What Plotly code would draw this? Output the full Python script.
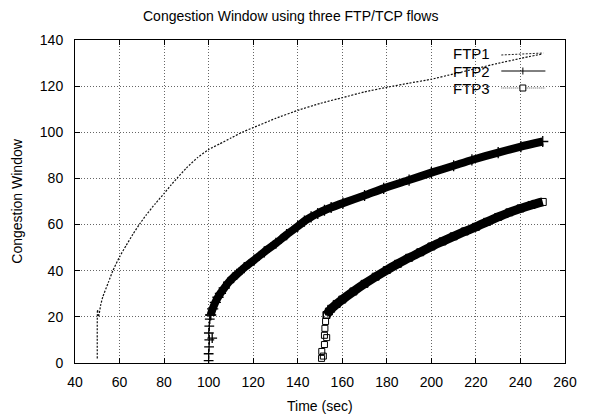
import plotly.graph_objects as go

# ---- data ----
ftp1_t = [50, 50.1, 50.6, 51.5, 52.5, 55, 57, 60, 63, 66, 69, 72, 76, 80, 83, 86, 90, 95,
          100, 105, 110, 115, 120, 130, 140, 150, 160, 170, 180, 190, 200, 210, 220, 230, 240, 250]
ftp1_w = [2, 23, 20, 25, 28.7, 35, 40, 46, 51, 55.8, 60.2, 64.2, 69, 73.5, 77, 80.3, 84.5, 89,
          92.5, 95, 97.5, 100, 102, 106, 109.5, 112.5, 115, 117.5, 119.5, 121.3, 123, 125.3, 127.6, 129.9, 132, 134]

ftp2_t = [100, 100, 100.2, 100.3, 100.1, 101.6, 100.3, 100.5, 100.9, 101.8, 103, 104.2, 105.3, 107, 109, 111,
          112.6, 116, 120.4, 125, 130.2, 135, 140, 143, 146, 149, 152, 155, 160.3, 170, 178.6, 190, 200,
          210, 218.2, 230, 240.2, 250]
ftp2_w = [1, 4, 7, 10, 13, 10.8, 16, 19, 20.8, 23.5, 26.3, 28.5, 30.2, 32.5, 35, 37,
          38.4, 41.3, 44.6, 48.2, 51.9, 55.6, 59.2, 61.5, 63.3, 64.8, 66.2, 67.4, 69.3, 72.6, 75.7, 79.3, 82.5,
          85.5, 88, 91.2, 93.8, 96]

ftp3_t = [150.7, 150.8, 151.5, 152, 152, 152.2, 153.0, 152.5, 152.9, 154, 155, 157.5, 160, 165, 170, 175,
          180, 185, 190, 195, 200, 205, 210, 215, 220, 225, 230, 235, 240, 245, 250]
ftp3_w = [2, 5, 3, 8, 12, 15, 11, 18, 20.8, 22.3, 23.5, 25.6, 27.5, 31, 34.3, 37.4,
          40.3, 43, 45.6, 48, 50.5, 52.7, 54.9, 57, 59, 61.2, 63.3, 65.3, 67, 68.5, 69.8]

# index where the slow-start spike ends and the continuous curve begins
ftp2_curve_start = 8
ftp3_curve_start = 8

series_names = ["FTP1", "FTP2", "FTP3"]
x_ticks = list(range(40, 261, 20))
y_ticks = list(range(0, 141, 20))

FONT = "Liberation Sans, Arial, Helvetica, sans-serif"

fig = go.Figure()
fig.add_trace(go.Scatter(x=ftp1_t, y=ftp1_w, mode="lines", name=series_names[0],
                         line=dict(color="#111", width=1.2, dash="2px,1.5px", shape="spline", smoothing=0.5)))
# FTP2: scattered "+" on the spike, thick band of points along the curve
fig.add_trace(go.Scatter(x=ftp2_t[:ftp2_curve_start + 1], y=ftp2_w[:ftp2_curve_start + 1], mode="markers",
                         name=series_names[1],
                         marker=dict(symbol="cross-thin", size=7, line=dict(color="black", width=1.3))))
fig.add_trace(go.Scatter(x=ftp2_t[ftp2_curve_start:], y=ftp2_w[ftp2_curve_start:], mode="lines+markers",
                         name=series_names[1], line=dict(color="black", width=8, shape="spline", smoothing=0.6),
                         marker=dict(symbol="cross-thin", size=8, line=dict(color="black", width=1.3))))
# FTP3: scattered squares on the spike, thick band along the curve
fig.add_trace(go.Scatter(x=ftp3_t[:ftp3_curve_start + 1], y=ftp3_w[:ftp3_curve_start + 1], mode="markers",
                         name=series_names[2],
                         marker=dict(symbol="square-open", size=6, color="black", line=dict(width=1))))
fig.add_trace(go.Scatter(x=ftp3_t[ftp3_curve_start:], y=ftp3_w[ftp3_curve_start:], mode="lines+markers",
                         name=series_names[2], line=dict(color="black", width=9, shape="spline", smoothing=0.6),
                         marker=dict(symbol="square-open", size=7, color="black", line=dict(width=1))))

axis_common = dict(showline=True, linecolor="black", linewidth=1, mirror="ticks",
                   ticks="inside", ticklen=5, tickcolor="black",
                   showgrid=True, gridcolor="#666", gridwidth=1, griddash="1px,2px",
                   zeroline=False, tickfont=dict(family=FONT, size=14, color="black"))

fig.update_xaxes(range=[40, 260], tickvals=x_ticks, ticklabelstandoff=6, **axis_common)
fig.update_yaxes(range=[0, 140], tickvals=y_ticks, ticklabelstandoff=8, **axis_common)

W, H = 589, 417
L, R, T, B = 75, 14, 40, 54
pw, ph = W - L - R, H - T - B

def px(xp):
    return (xp - L) / pw

def py(yp):
    return (H - B - yp) / ph

annotations = [
    dict(text="Congestion Window using three FTP/TCP flows", xref="paper", yref="paper",
         x=px(W / 2), y=py(16), showarrow=False, xanchor="center", yanchor="middle",
         font=dict(family=FONT, size=14, color="black")),
    dict(text="Time (sec)", xref="paper", yref="paper", x=0.5, y=py(406), showarrow=False,
         xanchor="center", yanchor="middle", font=dict(family=FONT, size=14, color="black")),
    dict(text="Congestion Window", xref="paper", yref="paper", x=px(15), y=0.5, showarrow=False,
         textangle=-90, xanchor="center", yanchor="middle", font=dict(family=FONT, size=14, color="black")),
]

shapes = []
rows_y = [54, 71, 88]
for name, yy in zip(series_names, rows_y):
    annotations.append(dict(text=name, xref="paper", yref="paper", x=px(501), y=py(yy),
                            showarrow=False, xanchor="right", yanchor="middle",
                            font=dict(family=FONT, size=15, color="black")))
# legend samples
shapes.append(dict(type="line", xref="paper", yref="paper", x0=px(510), x1=px(553), y0=py(55), y1=py(53),
                   line=dict(color="#222", width=1, dash="2px,1.5px")))
shapes.append(dict(type="line", xref="paper", yref="paper", x0=px(510), x1=px(555), y0=py(71), y1=py(71),
                   line=dict(color="black", width=1)))
shapes.append(dict(type="line", xref="paper", yref="paper", x0=px(532), x1=px(532), y0=py(67.5), y1=py(74.5),
                   line=dict(color="black", width=1)))
shapes.append(dict(type="line", xref="paper", yref="paper", x0=px(510), x1=px(555), y0=py(88), y1=py(88),
                   line=dict(color="#555", width=1, dash="1px,1px")))
shapes.append(dict(type="rect", xref="paper", yref="paper", x0=px(529), x1=px(535), y0=py(85), y1=py(91),
                   line=dict(color="black", width=1), fillcolor="white"))

fig.update_layout(width=W, height=H, margin=dict(l=L, r=R, t=T, b=B),
                  paper_bgcolor="white", plot_bgcolor="white",
                  showlegend=False, annotations=annotations, shapes=shapes,
                  font=dict(family=FONT, size=14, color="black"))

fig.write_html("out.html", config={"displayModeBar": False},
               post_script="document.body.style.margin='0';document.body.style.padding='0';")
